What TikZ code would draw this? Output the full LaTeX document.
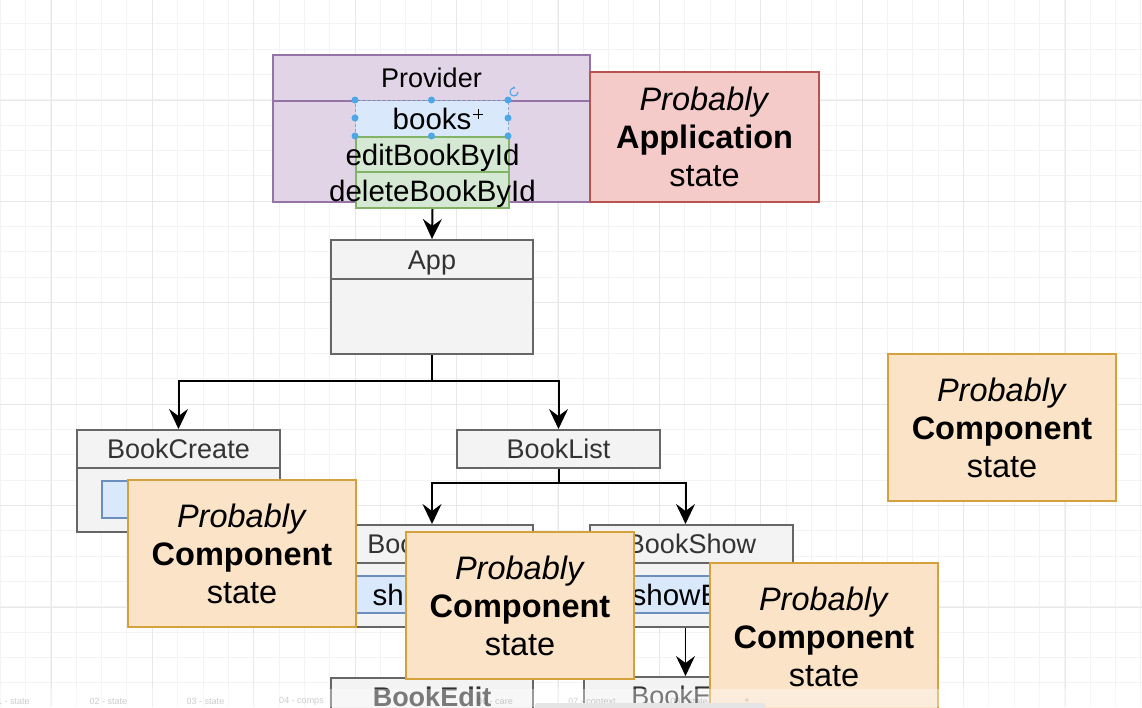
\documentclass[tikz,border=0pt]{standalone}
\usepackage{fontspec}
\setmainfont{Liberation Sans}
\usetikzlibrary{arrows.meta, positioning, calc}
\definecolor{dgridminor}{HTML}{F3F3F3}
\definecolor{dgridmajor}{HTML}{E8E8E8}
\definecolor{dpurple}{HTML}{E0D4E6}
\definecolor{dpurpleline}{HTML}{9673A6}
\definecolor{dred}{HTML}{F4CBC9}
\definecolor{dredline}{HTML}{B85450}
\definecolor{dorange}{HTML}{FBE3C8}
\definecolor{dorangeline}{HTML}{D4A13C}
\definecolor{dgray}{HTML}{F3F3F3}
\definecolor{dgrayline}{HTML}{666666}
\definecolor{dgraytext}{HTML}{333333}
\definecolor{dblue}{HTML}{DAE8FC}
\definecolor{dblueline}{HTML}{6C8EBF}
\definecolor{dgreen}{HTML}{D5E8D4}
\definecolor{dgreenline}{HTML}{82B366}
\definecolor{dhandle}{HTML}{4DA6E8}
\newcommand{\compnote}{\textit{Probably}\\\textbf{Component}\\state}
\tikzset{
  gridminor/.style={draw=dgridminor, line width=1pt},
  gridmajor/.style={draw=dgridmajor, line width=1pt},
  cell/.style={rectangle, anchor=north west, inner sep=0pt, line width=2pt},
  graybox/.style={cell, fill=dgray, draw=dgrayline, text=dgraytext,
    font=\fontsize{27}{32}\selectfont, text height=19.4pt, text depth=0pt},
  purplebox/.style={cell, fill=dpurple, draw=dpurpleline, text=black,
    font=\fontsize{27}{32}\selectfont, text height=19.4pt, text depth=0pt},
  bluebox/.style={cell, fill=dblue, draw=dblueline},
  greenbox/.style={cell, fill=dgreen, draw=dgreenline},
  celltext/.style={inner sep=0pt, text=black, font=\fontsize{29.5}{34}\selectfont,
    text height=22pt, text depth=0pt},
  statebox/.style={cell, minimum width=228, minimum height=147, align=center,
    text=black, font=\fontsize{32.5}{38}\selectfont},
  appstate/.style={statebox, minimum width=229, minimum height=130, fill=dred, draw=dredline},
  compstate/.style={statebox, fill=dorange, draw=dorangeline},
  flow/.style={-{Stealth[length=20pt, width=19pt, inset=7pt]}, line width=2pt, black},
  tablabel/.style={inner sep=0pt, text=black, text opacity=0.2, font=\fontsize{9}{11}\selectfont},
}

\begin{document}
\begin{tikzpicture}[x=1pt, y=-1pt]

  \useasboundingbox (0,0) rectangle (1142,707);
  \clip (0,0) rectangle (1142,707);
  \fill[white] (0,0) rectangle (1142,707);

  %% Grid
  \foreach \gx in {0.2,25.55,...,1142} \draw[gridminor] (\gx,0) -- (\gx,707);
  \foreach \gy in {23.8,49.15,...,707} \draw[gridminor] (0,\gy) -- (1142,\gy);
  \foreach \gx in {51,152.4,...,1142} \draw[gridmajor] (\gx,0) -- (\gx,707);
  \foreach \gy in {100,201.4,...,707} \draw[gridmajor] (0,\gy) -- (1142,\gy);

  %% Provider
  \node[purplebox, minimum width=317, minimum height=147] (provider) at (272,54) {};
  \node[purplebox, minimum width=317, minimum height=46] (providerhead) at (272,54) {Provider};
  \node[bluebox, draw=dblueline!80, line width=1.2pt, dash pattern=on 3pt off 2pt,
    minimum width=153, minimum height=36] (books) at (355,100) {};
  \node[greenbox, minimum width=153, minimum height=35] (editfn) at (355,136) {};
  \node[greenbox, minimum width=153, minimum height=36] (deletefn) at (355,171) {};
  \node[celltext] (bookstxt) at (books.center) {books};
  \node[celltext] (editfntxt) at (editfn.center) {editBookById};
  \node[celltext] (deletefntxt) at (deletefn.center) {deleteBookById};

  %% selection handles
  \foreach \hx/\hy in {355/100, 431.5/100, 508/100, 355/118, 508/118, 355/136, 431.5/136, 508/136}
    \fill[dhandle] (\hx,\hy) circle (3.5);
  \draw[dhandle, line width=1.1pt, -{Stealth[length=2.5pt, width=3pt]}]
    (518,92) arc[start angle=0, end angle=290, radius=4];
  \draw[line width=0.9pt] (473,114) -- (483,114) (478,109) -- (478,119);

  \node[appstate] (appstate) at (589,71) {\textit{Probably}\\\textbf{Application}\\state};

  %% App
  \node[graybox, minimum width=202, minimum height=114] (app) at (330,239) {};
  \node[graybox, minimum width=202, minimum height=39] (apphead) at (330,239) {App};

  %% BookCreate
  \node[graybox, minimum width=203, minimum height=102] (create) at (76,429) {};
  \node[graybox, minimum width=203, minimum height=38] (createhead) at (76,429) {BookCreate};
  \node[bluebox, minimum width=153, minimum height=37] (createstate) at (101,480) {};

  %% BookList
  \node[graybox, minimum width=203, minimum height=38] (list) at (456,429) {BookList};

  %% BookShow (two of them)
  \node[graybox, minimum width=202, minimum height=102] (showa) at (330,524) {};
  \node[graybox, minimum width=202, minimum height=38] (showahead) at (330,524) {BookShow};
  \node[bluebox, minimum width=153, minimum height=37] (showastate) at (355,575) {};
  \node[celltext] (showastatetxt) at (showastate.center) {showEdit};

  \node[graybox, minimum width=203, minimum height=102] (showb) at (589,524) {};
  \node[graybox, minimum width=203, minimum height=38] (showbhead) at (589,524) {BookShow};
  \node[bluebox, minimum width=153, minimum height=37] (showbstate) at (614,575) {};
  \node[celltext] (showbstatetxt) at (showbstate.center) {showEdit};

  %% BookEdit (two of them)
  \node[graybox, minimum width=202, minimum height=114] (edita) at (330,677) {};
  \node[graybox, minimum width=202, minimum height=38] (editahead) at (330,677) {\bfseries BookEdit};
  \node[graybox, minimum width=203, minimum height=114] (editb) at (583,676) {};
  \node[graybox, minimum width=203, minimum height=38] (editbhead) at (583,676) {BookEdit};

  %% Connectors
  \draw[flow] (deletefn.south) -- (app.north);
  \draw[flow] (app.south) -- ++(0,26) -| (createhead.north);
  \draw[flow] (app.south) -- ++(0,26) -| (list.north);
  \draw[flow] (list.south) -- ++(0,14) -| (showahead.north);
  \draw[flow] (list.south) -- ++(0,14) -| (editbhead.north |- showbhead.north);
  \draw[flow] (showa.south) -- (editahead.north);
  \draw[flow, line width=1.6pt] (editbhead.north |- showb.south) -- (editbhead.north);

  %% Notes
  \node[compstate] (createnote) at (127,479) {\compnote};
  \node[compstate] (shownote) at (405,531) {\compnote};
  \node[compstate] (editnote) at (709,562) {\compnote};
  \node[compstate] (sidenote) at (887,353) {\compnote};

  %% page tabs
  \fill[white, opacity=0.35] (0,689) rectangle (1142,707);
  \foreach \tx/\tname in {11/01 - state, 108.5/02 - state, 205.5/03 - state, 301.5/04 - comps,
      495/06 - care, 592/07 - context, 689/08 - state, 747/+}
    \node[tablabel] (tab\tx) at (\tx,701) {\tname};
  \fill[black!10, rounded corners=2pt] (535,703) rectangle (765,710);

\end{tikzpicture}
\end{document}
